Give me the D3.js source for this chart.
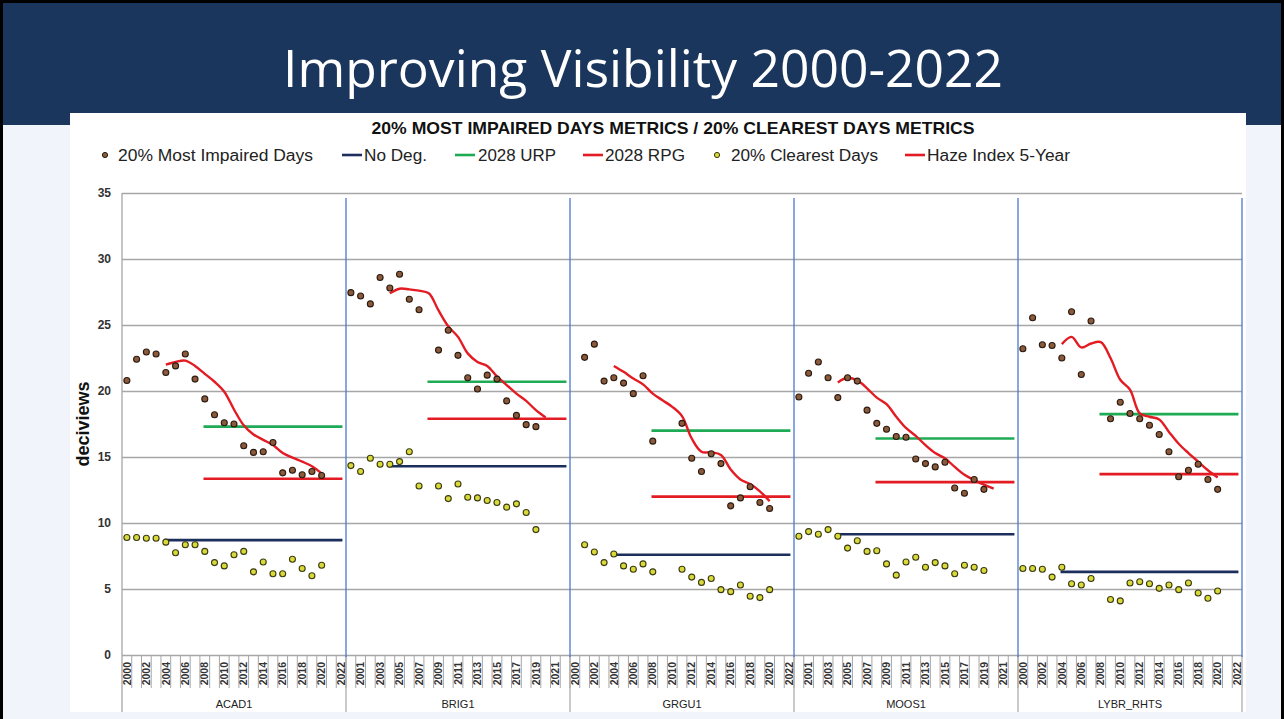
<!DOCTYPE html>
<html>
<head>
<meta charset="utf-8">
<script src="https://cdn.jsdelivr.net/npm/d3@7"></script>
<style>
  body { margin: 0; background: #f1f5fb; }
  svg { display: block; }
</style>
</head>
<body>
<svg id="chart" width="1284" height="719"></svg>
<script>
// ---- data (deciviews) ----
const sites = ["ACAD1", "BRIG1", "GRGU1", "MOOS1", "LYBR_RHTS"];
const years = [2000, 2001, 2002, 2003, 2004, 2005, 2006, 2007, 2008, 2009, 2010, 2011,
               2012, 2013, 2014, 2015, 2016, 2017, 2018, 2019, 2020, 2021, 2022];
const yTicks = [0, 5, 10, 15, 20, 25, 30, 35];

// 20% most impaired days, one value per year 2000-2022
const impairedACAD1 = [20.8, 22.4, 22.95, 22.8, 21.4, 21.9, 22.8, 20.9, 19.4, 18.2, 17.6, 17.5, 15.85, 15.35, 15.4, 16.1, 13.8, 14.0, 13.65, 13.9, 13.6, null, null];
const impairedBRIG1 = [27.45, 27.2, 26.6, 28.6, 27.8, 28.85, 26.95, 26.15, null, 23.1, 24.6, 22.7, 21.0, 20.15, 21.2, 20.9, 19.25, 18.15, 17.45, 17.3, null, null, null];
const impairedGRGU1 = [null, 22.55, 23.55, 20.75, 21.0, 20.6, 19.8, 21.15, 16.2, null, null, 17.55, 14.9, 13.9, 15.25, 14.5, 11.3, 11.9, 12.75, 11.55, 11.1, null, null];
const impairedMOOS1 = [19.55, 21.35, 22.2, 21.0, 19.5, 21.0, 20.75, 18.55, 17.55, 17.1, 16.55, 16.5, 14.85, 14.5, 14.25, 14.6, 12.65, 12.25, 13.3, 12.55, null, null, null];
const impairedLYBR = [23.2, 25.55, 23.5, 23.45, 22.5, 26.0, 21.25, 25.3, null, 17.9, 19.15, 18.3, 17.9, 17.4, 16.7, 15.4, 13.5, 14.0, 14.45, 13.3, 12.55, null, null];

// 20% clearest days
const clearestACAD1 = [8.9, 8.9, 8.85, 8.85, 8.55, 7.75, 8.35, 8.35, 7.85, 7.0, 6.75, 7.6, 7.85, 6.3, 7.05, 6.15, 6.15, 7.25, 6.55, 6.0, 6.8, null, null];
const clearestBRIG1 = [14.35, 13.9, 14.9, 14.45, 14.45, 14.65, 15.4, 12.8, null, 12.8, 11.85, 12.95, 11.95, 11.9, 11.7, 11.55, 11.2, 11.45, 10.8, 9.5, null, null, null];
const clearestGRGU1 = [null, 8.35, 7.8, 7.0, 7.65, 6.75, 6.5, 6.9, 6.3, null, null, 6.5, 5.9, 5.5, 5.8, 4.95, 4.8, 5.3, 4.45, 4.35, 4.95, null, null];
const clearestMOOS1 = [9.0, 9.35, 9.15, 9.5, 9.0, 8.1, 8.65, 7.85, 7.9, 6.9, 6.05, 7.05, 7.4, 6.65, 7.0, 6.75, 6.15, 6.8, 6.65, 6.4, null, null, null];
const clearestLYBR = [6.55, 6.55, 6.5, 5.9, 6.65, 5.4, 5.3, 5.8, null, 4.2, 4.1, 5.45, 5.55, 5.4, 5.05, 5.3, 4.95, 5.45, 4.7, 4.3, 4.85, null, null];

// haze index 5-year average
const hazeACAD1 = [null, null, null, null, 22.0, 22.2, 22.3, 21.9, 21.3, 20.7, 19.95, 18.6, 17.4, 16.7, 16.3, 15.9, 15.3, 14.95, 14.65, 14.3, 13.75, null, null];
const hazeBRIG1 = [null, null, null, null, 27.4, 27.75, 27.7, 27.6, 27.4, 26.1, 24.9, 24.1, 22.85, 22.2, 21.9, 21.1, 20.45, 19.8, 19.25, 18.55, 18.0, null, null];
const hazeGRGU1 = [null, null, null, null, 21.9, 21.45, 20.95, 20.5, 19.8, 19.3, 18.8, 18.1, 16.4, 15.4, 15.35, 15.15, 14.05, 13.3, 12.95, 12.4, 11.65, null, null];
const hazeMOOS1 = [null, null, null, null, 20.65, 21.0, 20.8, 20.2, 19.5, 19.0, 18.05, 17.2, 16.6, 15.9, 15.3, 14.9, 14.25, 13.65, 13.25, 12.9, 12.6, null, null];
const hazeLYBR = [null, null, null, null, 23.55, 24.1, 23.3, 23.6, 23.7, 22.5, 20.85, 20.1, 18.3, 18.05, 17.85, 16.9, 16.0, 15.3, 14.65, 14.0, 13.45, null, null];

// horizontal reference levels per site
const noDeg = [8.7, 14.3, 7.6, 9.15, 6.3];
const urp2028 = [17.3, 20.7, 17.0, 16.4, 18.25];
const rpg2028 = [13.35, 17.9, 12.0, 13.1, 13.7];
const noDegFrom = 2004, goalFrom = 2008, goalTo = 2022;

const impaired = [impairedACAD1, impairedBRIG1, impairedGRGU1, impairedMOOS1, impairedLYBR];
const clearest = [clearestACAD1, clearestBRIG1, clearestGRGU1, clearestMOOS1, clearestLYBR];
const haze = [hazeACAD1, hazeBRIG1, hazeGRGU1, hazeMOOS1, hazeLYBR];

// ---- colours ----
const cNavy = "#1c2f5c", cGreen = "#1faa55", cRed = "#e31b23";
const cImpFill = "#8a5a3b", cImpStroke = "#2b1a10";
const cClrFill = "#d9d93a", cClrStroke = "#3a3a12";

const svg = d3.select("#chart");

// ---- slide frame ----
svg.append("rect").attr("width", 1284).attr("height", 719).attr("fill", "#f1f5fb");
svg.append("rect").attr("x", 0).attr("y", 0).attr("width", 1284).attr("height", 125).attr("fill", "#1b365d");
svg.append("text")
  .attr("x", 643).attr("y", 87)
  .attr("text-anchor", "middle")
  .attr("font-family", "'Open Sans', 'Noto Sans', sans-serif")
  .attr("font-weight", 400)
  .attr("font-size", 52)
  .attr("fill", "#ffffff")
  .attr("textLength", 720).attr("lengthAdjust", "spacingAndGlyphs")
  .text("Improving Visibility 2000-2022");

// white chart box
svg.append("rect").attr("x", 70).attr("y", 113).attr("width", 1176).attr("height", 599).attr("fill", "#ffffff");

// slide border
svg.append("path").attr("d", "M1.5,719V1.5H1282.5V719").attr("fill", "none").attr("stroke", "#000").attr("stroke-width", 3);

const narrow = "'Liberation Sans Narrow', 'Arial Narrow', 'Liberation Sans', sans-serif";

svg.append("text")
  .attr("x", 673).attr("y", 134)
  .attr("text-anchor", "middle")
  .attr("font-family", narrow).attr("font-weight", "bold").attr("font-size", 17)
  .attr("fill", "#111")
  .attr("textLength", 603).attr("lengthAdjust", "spacingAndGlyphs")
  .text("20% MOST IMPAIRED DAYS METRICS / 20% CLEAREST DAYS METRICS");

// ---- scales ----
const cats = [];
sites.forEach(s => years.forEach(yr => cats.push(s + "|" + yr)));

const x = d3.scaleBand().domain(cats).range([122, 1242]);
const y = d3.scaleLinear().domain([0, 35]).range([655, 193]);
const cx = (s, yr) => x(s + "|" + yr) + x.bandwidth() / 2;

// gridlines + y axis
let gy = svg.append("g")
  .attr("transform", "translate(122,0)")
  .call(d3.axisLeft(y).tickValues(yTicks).tickSize(-1120).tickPadding(11));
gy.select(".domain").remove();
gy.selectAll(".tick line").attr("stroke", "#a6a6a6").attr("stroke-width", 1.3);
gy.selectAll(".tick text")
  .attr("font-family", "'Liberation Sans', Arial, sans-serif")
  .attr("font-size", 12).attr("font-weight", "bold").attr("fill", "#333");

svg.append("text")
  .attr("transform", "translate(89,424) rotate(-90)")
  .attr("text-anchor", "middle")
  .attr("font-family", "'Liberation Sans', Arial, sans-serif")
  .attr("font-weight", "bold").attr("font-size", 18)
  .attr("fill", "#111")
  .text("deciviews");

// left axis line
svg.append("line").attr("x1", 122).attr("x2", 122).attr("y1", 193).attr("y2", 712)
  .attr("stroke", "#a6a6a6").attr("stroke-width", 1.3);

// category axis: year labels (every other category)
let gx = svg.append("g")
  .attr("transform", "translate(0,655)")
  .call(d3.axisBottom(x).tickSize(0).tickFormat((d, i) => i % 2 === 0 ? d.split("|")[1] : ""));
gx.select(".domain").remove();
gx.selectAll(".tick text")
  .attr("transform", "rotate(-90)")
  .attr("x", -7).attr("y", 0).attr("dy", "0.35em")
  .attr("text-anchor", "end")
  .attr("font-family", "'Liberation Sans', Arial, sans-serif")
  .attr("font-size", 10.5).attr("font-weight", "bold").attr("fill", "#333");

// tick separators between years
svg.append("g").selectAll("line")
  .data(cats.slice(1))
  .join("line")
  .attr("x1", d => x(d)).attr("x2", d => x(d))
  .attr("y1", 655).attr("y2", 688)
  .attr("stroke", "#a6a6a6").attr("stroke-width", 1);

// site separators + names
const siteEdges = sites.map(s => x(s + "|" + years[years.length - 1]) + x.bandwidth());
svg.append("g").selectAll("line")
  .data(siteEdges)
  .join("line")
  .attr("x1", d => d).attr("x2", d => d)
  .attr("y1", 655).attr("y2", 712)
  .attr("stroke", "#a6a6a6").attr("stroke-width", 1.2);

svg.append("g").selectAll("text")
  .data(sites)
  .join("text")
  .attr("x", s => (x(s + "|" + years[0]) + x(s + "|" + years[22]) + x.bandwidth()) / 2)
  .attr("y", 708)
  .attr("text-anchor", "middle")
  .attr("font-family", "'Liberation Sans', Arial, sans-serif")
  .attr("font-size", 11).attr("fill", "#222")
  .text(s => s);

// blue panel dividers
svg.append("g").selectAll("line")
  .data(siteEdges)
  .join("line")
  .attr("x1", d => d).attr("x2", d => d)
  .attr("y1", 198).attr("y2", 657)
  .attr("stroke", "#4a78d0").attr("stroke-width", 1.3);

// ---- series ----
const plot = svg.append("g");

// reference levels
function level(vals, fromYr, color) {
  plot.append("g").selectAll("line")
    .data(sites)
    .join("line")
    .attr("x1", (s) => cx(s, fromYr))
    .attr("x2", (s) => cx(s, goalTo))
    .attr("y1", (s, i) => y(vals[i]))
    .attr("y2", (s, i) => y(vals[i]))
    .attr("stroke", color).attr("stroke-width", 2.6).attr("stroke-linecap", "square");
}
level(noDeg, noDegFrom, cNavy);
level(urp2028, goalFrom, cGreen);
level(rpg2028, goalFrom, cRed);

// haze index 5-year
const hazeLine = d3.line()
  .defined(d => d.v != null)
  .x(d => cx(d.s, d.yr))
  .y(d => y(d.v))
  .curve(d3.curveCatmullRom);

sites.forEach((s, i) => {
  const pts = years.map((yr, j) => ({ s: s, yr: yr, v: haze[i][j] })).filter(d => d.v != null);
  plot.append("path")
    .datum(pts)
    .attr("d", hazeLine)
    .attr("fill", "none")
    .attr("stroke", cRed).attr("stroke-width", 2.4);
});

// dots
function dots(series, fill, stroke) {
  sites.forEach((s, i) => {
    const pts = years.map((yr, j) => ({ s: s, yr: yr, v: series[i][j] })).filter(d => d.v != null);
    plot.append("g").selectAll("circle")
      .data(pts)
      .join("circle")
      .attr("cx", d => cx(d.s, d.yr))
      .attr("cy", d => y(d.v))
      .attr("r", 3)
      .attr("fill", fill).attr("stroke", stroke).attr("stroke-width", 1.1);
  });
}
dots(clearest, cClrFill, cClrStroke);
dots(impaired, cImpFill, cImpStroke);

// ---- legend ----
const legendItems = [
  { label: "20% Most Impaired Days", type: "dot", fill: cImpFill, stroke: cImpStroke, mx: 105, tx: 118, tw: 195 },
  { label: "No Deg.", type: "line", color: cNavy, mx: 342, tx: 364, tw: 63 },
  { label: "2028 URP", type: "line", color: cGreen, mx: 455, tx: 478, tw: 78 },
  { label: "2028 RPG", type: "line", color: cRed, mx: 583, tx: 605, tw: 80 },
  { label: "20% Clearest Days", type: "dot", fill: cClrFill, stroke: cClrStroke, mx: 717, tx: 731, tw: 147 },
  { label: "Haze Index 5-Year", type: "line", color: cRed, mx: 905, tx: 927, tw: 143 }
];

const legend = svg.append("g").selectAll("g")
  .data(legendItems)
  .join("g");

legend.filter(d => d.type === "dot").append("circle")
  .attr("cx", d => d.mx).attr("cy", 155).attr("r", 2.6)
  .attr("fill", d => d.fill).attr("stroke", d => d.stroke).attr("stroke-width", 1);

legend.filter(d => d.type === "line").append("line")
  .attr("x1", d => d.mx).attr("x2", d => d.mx + 20)
  .attr("y1", 155).attr("y2", 155)
  .attr("stroke", d => d.color).attr("stroke-width", 2.6);

legend.append("text")
  .attr("x", d => d.tx).attr("y", 161)
  .attr("font-family", narrow).attr("font-size", 16)
  .attr("fill", "#222")
  .attr("textLength", d => d.tw).attr("lengthAdjust", "spacingAndGlyphs")
  .text(d => d.label);
</script>
</body>
</html>
